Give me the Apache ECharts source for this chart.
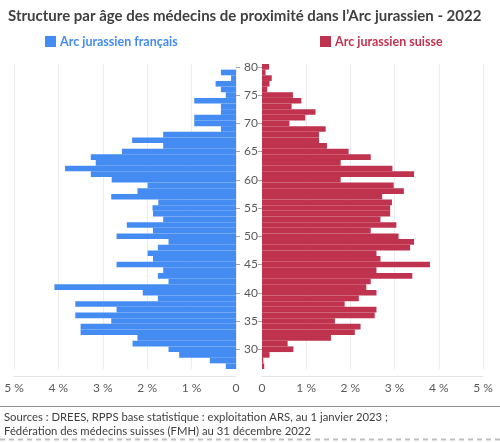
<!DOCTYPE html>
<html>
<head>
<meta charset="utf-8">
<script src="https://cdn.jsdelivr.net/npm/echarts@6/dist/echarts.min.js"></script>
<style>
  html, body { margin: 0; padding: 0; background: #ffffff; }
  #chart { width: 500px; height: 443px; }
</style>
</head>
<body>
<div id="chart"></div>
<script>
// Ages (bottom to top)
const ages = ['27','28','29','30','31','32','33','34','35','36','37','38','39','40','41','42','43','44','45','46','47','48','49','50','51','52','53','54','55','56','57','58','59','60','61','62','63','64','65','66','67','68','69','70','71','72','73','74','75','76','77','78','79','80'];

// Arc jurassien français (% of doctors), ages 27..80
const francais = [0.23,0.59,1.28,1.52,2.33,2.22,3.50,3.50,2.81,3.62,2.69,3.62,1.76,2.10,4.09,1.52,1.76,1.64,2.69,1.87,1.99,1.76,1.52,2.69,1.87,2.46,1.64,1.87,1.88,1.75,2.81,2.22,1.99,2.80,3.27,3.85,3.16,3.27,2.57,1.64,2.34,1.64,0.34,0.94,0.94,0.34,0.34,0.94,0.23,0.34,0.46,0.11,0.34,0];

// Arc jurassien suisse (% of doctors), ages 27..80
const suisse = [0.05,0.03,0.17,0.71,0.58,1.56,2.10,2.23,1.65,2.55,2.59,1.87,2.19,2.59,2.36,2.46,3.40,2.59,3.80,2.68,2.59,3.35,3.44,3.09,2.46,3.04,2.68,2.90,2.90,2.94,2.72,3.21,2.98,1.78,3.44,2.95,1.78,2.46,1.96,1.47,1.29,1.29,1.44,0.62,0.98,1.21,0.67,0.89,0.70,0.12,0.17,0.22,0.08,0.16];

const pctTicks = [0, 1, 2, 3, 4, 5];

const titleText = "Structure par âge des médecins de proximité dans l’Arc jurassien - 2022";
const nameFR = 'Arc jurassien français';
const nameCH = 'Arc jurassien suisse';
const sourceLines = [
  'Sources : DREES, RPPS base statistique : exploitation ARS, au 1 janvier 2023 ;',
  'Fédération des médecins suisses (FMH) au 31 décembre 2022'
];

const BLUE = '#448CF1';
const RED = '#C0334F';
const FONT = 'Lato, sans-serif';
const GRAY = '#595959';

const showEvery5 = (idx, val) => Number(val) % 5 === 0;
const pctFmt = v => (v === 0 ? '0' : v + ' %');

const chart = echarts.init(document.getElementById('chart'), null, { renderer: 'canvas' });

const xAxisCommon = {
  type: 'value',
  min: pctTicks[0],
  max: pctTicks[pctTicks.length - 1],
  interval: 1,
  offset: 7,
  axisLine: { show: true, lineStyle: { color: '#e3e3e3', width: 1 } },
  axisTick: { show: false },
  splitLine: { show: true, lineStyle: { color: '#ececec', width: 1 } },
  axisLabel: { formatter: pctFmt, color: GRAY, fontSize: 12, fontFamily: FONT, margin: 6 }
};

chart.setOption({
  backgroundColor: '#ffffff',
  animation: false,
  title: {
    text: titleText,
    left: 3,
    top: 4,
    textStyle: { color: '#404040', fontSize: 15, fontWeight: 'bold', fontFamily: FONT }
  },
  legend: [
    {
      data: [{ name: nameFR, textStyle: { color: BLUE } }],
      left: 40, top: 30, itemWidth: 11, itemHeight: 11, itemGap: 4,
      icon: 'rect',
      textStyle: { fontSize: 12.5, fontWeight: 'bold', fontFamily: FONT, padding: [0, 0, 0, -1] }
    },
    {
      data: [{ name: nameCH, textStyle: { color: RED } }],
      left: 315, top: 30, itemWidth: 11, itemHeight: 11, itemGap: 4,
      icon: 'rect',
      textStyle: { fontSize: 12.5, fontWeight: 'bold', fontFamily: FONT, padding: [0, 0, 0, -1] }
    }
  ],
  grid: [
    { left: 14, right: 264, top: 64, bottom: 74 },
    { left: 262, right: 17, top: 64, bottom: 74 }
  ],
  xAxis: [
    Object.assign({}, xAxisCommon, { gridIndex: 0, inverse: true }),
    Object.assign({}, xAxisCommon, { gridIndex: 1 })
  ],
  yAxis: [
    {
      type: 'category', gridIndex: 0, data: ages, position: 'right',
      axisLine: { show: false },
      axisTick: { show: true, interval: showEvery5, alignWithLabel: true, length: 4, lineStyle: { color: '#a6a6a6' } },
      axisLabel: { show: false, interval: showEvery5 }
    },
    {
      type: 'category', gridIndex: 1, data: ages, position: 'left',
      axisLine: { show: false },
      axisTick: { show: true, interval: showEvery5, alignWithLabel: true, length: 4, lineStyle: { color: '#a6a6a6' } },
      axisLabel: { show: true, interval: showEvery5, color: GRAY, fontSize: 12, fontFamily: FONT, margin: 4 }
    }
  ],
  series: [
    {
      name: nameFR, type: 'bar', xAxisIndex: 0, yAxisIndex: 0,
      data: francais, barCategoryGap: 0, barWidth: '100%',
      itemStyle: { color: BLUE }
    },
    {
      name: nameCH, type: 'bar', xAxisIndex: 1, yAxisIndex: 1,
      data: suisse, barCategoryGap: 0, barWidth: '100%',
      itemStyle: { color: RED }
    }
  ],
  graphic: [
    { type: 'line', shape: { x1: 0, y1: 406.5, x2: 500, y2: 406.5 }, style: { stroke: '#8c8c8c', lineWidth: 1 } },
    { type: 'text', left: 4, top: 412, style: { text: sourceLines[0], fill: '#404040', fontSize: 11.3, fontFamily: FONT } },
    { type: 'text', left: 4, top: 426, style: { text: sourceLines[1], fill: '#404040', fontSize: 11.3, fontFamily: FONT } },
    { type: 'line', shape: { x1: 0, y1: 439.5, x2: 500, y2: 439.5 }, style: { stroke: '#bfbfbf', lineWidth: 2, lineDash: [5, 4] } }
  ]
});
</script>
</body>
</html>
